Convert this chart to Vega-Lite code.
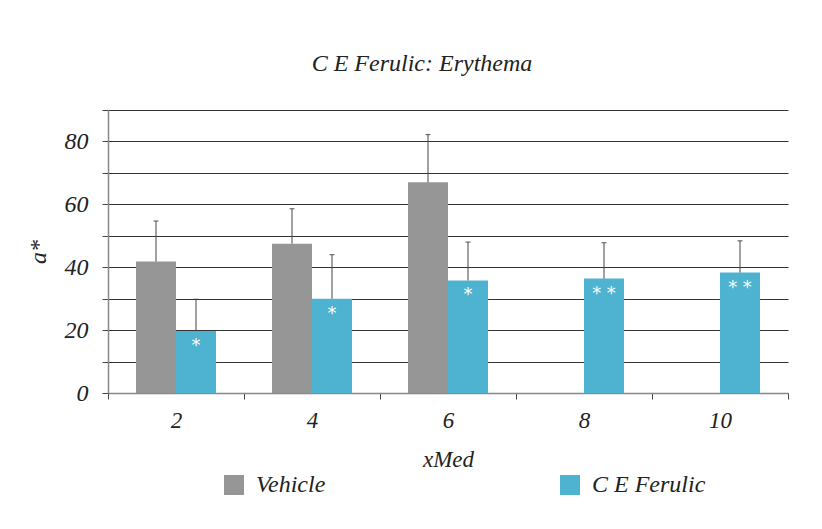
{
  "$schema": "https://vega.github.io/schema/vega-lite/v6.json",
  "width": 680,
  "height": 283,
  "autosize": "none",
  "padding": {"left": 108, "top": 110, "right": 34, "bottom": 136},
  "background": "white",
  "title": {
    "text": "C E Ferulic: Erythema",
    "font": "Liberation Serif",
    "fontStyle": "italic",
    "fontWeight": "normal",
    "fontSize": 24,
    "color": "#222",
    "offset": 34,
    "dx": -26
  },
  "data": {
    "values": [
      {"xMed": 2, "series": "Vehicle", "value": 41.8, "upper": 54.7, "star": ""},
      {"xMed": 2, "series": "C E Ferulic", "value": 19.7, "upper": 29.8, "star": "*"},
      {"xMed": 4, "series": "Vehicle", "value": 47.5, "upper": 58.6, "star": ""},
      {"xMed": 4, "series": "C E Ferulic", "value": 30.0, "upper": 44.0, "star": "*"},
      {"xMed": 6, "series": "Vehicle", "value": 67.0, "upper": 82.2, "star": ""},
      {"xMed": 6, "series": "C E Ferulic", "value": 35.8, "upper": 48.0, "star": "*"},
      {"xMed": 8, "series": "C E Ferulic", "value": 36.4, "upper": 47.8, "star": "* *"},
      {"xMed": 10, "series": "C E Ferulic", "value": 38.3, "upper": 48.4, "star": "* *"}
    ]
  },
  "encoding": {
    "x": {
      "field": "xMed",
      "type": "ordinal",
      "sort": [2, 4, 6, 8, 10],
      "scale": {"paddingInner": 0, "paddingOuter": 0},
      "axis": {
        "title": "xMed",
        "labelAngle": 0,
        "tickBand": "extent",
        "tickSize": 6,
        "tickColor": "#444",
        "domainColor": "#888",
        "domainWidth": 1.5,
        "labelPadding": 10,
        "titlePadding": 16,
        "labelFont": "Liberation Serif",
        "labelFontStyle": "italic",
        "labelFontSize": 23,
        "labelColor": "#222",
        "titleFont": "Liberation Serif",
        "titleFontStyle": "italic",
        "titleFontWeight": "normal",
        "titleFontSize": 23,
        "titleColor": "#222",
        "grid": false
      }
    },
    "xOffset": {
      "field": "series",
      "type": "nominal",
      "sort": ["Vehicle", "C E Ferulic"],
      "scale": {"domain": ["Vehicle", "C E Ferulic"], "paddingInner": 0, "paddingOuter": 0.7}
    }
  },
  "layer": [
    {
      "mark": {"type": "bar"},
      "encoding": {
        "y": {
          "field": "value",
          "type": "quantitative",
          "title": "a*",
          "scale": {"domain": [0, 90], "nice": false}
        },
        "color": {
          "field": "series",
          "type": "nominal",
          "scale": {"domain": ["Vehicle", "C E Ferulic"], "range": ["#969696", "#4EB3D0"]},
          "legend": {
            "title": null,
            "orient": "none",
            "legendX": 114,
            "legendY": 363,
            "direction": "horizontal",
            "columns": 2,
            "columnPadding": 232,
            "symbolType": "square",
            "symbolSize": 400,
            "symbolStrokeWidth": 0,
            "symbolOpacity": 1,
            "labelOffset": 10,
            "labelFont": "Liberation Serif",
            "labelFontStyle": "italic",
            "labelFontSize": 24,
            "labelColor": "#222",
            "labelLimit": 300
          }
        }
      }
    },
    {
      "mark": {"type": "rule", "color": "#444", "strokeWidth": 1},
      "encoding": {
        "y": {"field": "value", "type": "quantitative", "title": "a*"},
        "y2": {"field": "upper"}
      }
    },
    {
      "mark": {"type": "tick", "color": "#333", "size": 5, "thickness": 1.2, "orient": "horizontal"},
      "encoding": {
        "y": {"field": "upper", "type": "quantitative", "title": "a*"}
      }
    },
    {
      "mark": {"type": "text", "color": "white", "fontSize": 18, "dy": 15, "font": "DejaVu Sans"},
      "encoding": {
        "y": {"field": "value", "type": "quantitative", "title": "a*"},
        "text": {"field": "star"}
      }
    }
  ],
  "config": {
    "view": {"stroke": null},
    "axisY": {
      "tickCount": 9,
      "labelExpr": "datum.value % 20 == 0 && datum.value < 90 ? datum.label : ''",
      "grid": true,
      "gridColor": "#333",
      "gridWidth": 1,
      "tickSize": 6,
      "tickColor": "#444",
      "domainColor": "#888",
      "domainWidth": 1.5,
      "labelPadding": 14,
      "labelFont": "Liberation Serif",
      "labelFontStyle": "italic",
      "labelFontSize": 24,
      "labelColor": "#222",
      "titleFont": "Liberation Serif",
      "titleFontStyle": "italic",
      "titleFontWeight": "normal",
      "titleFontSize": 24,
      "titleColor": "#222",
      "titlePadding": 14
    }
  }
}
